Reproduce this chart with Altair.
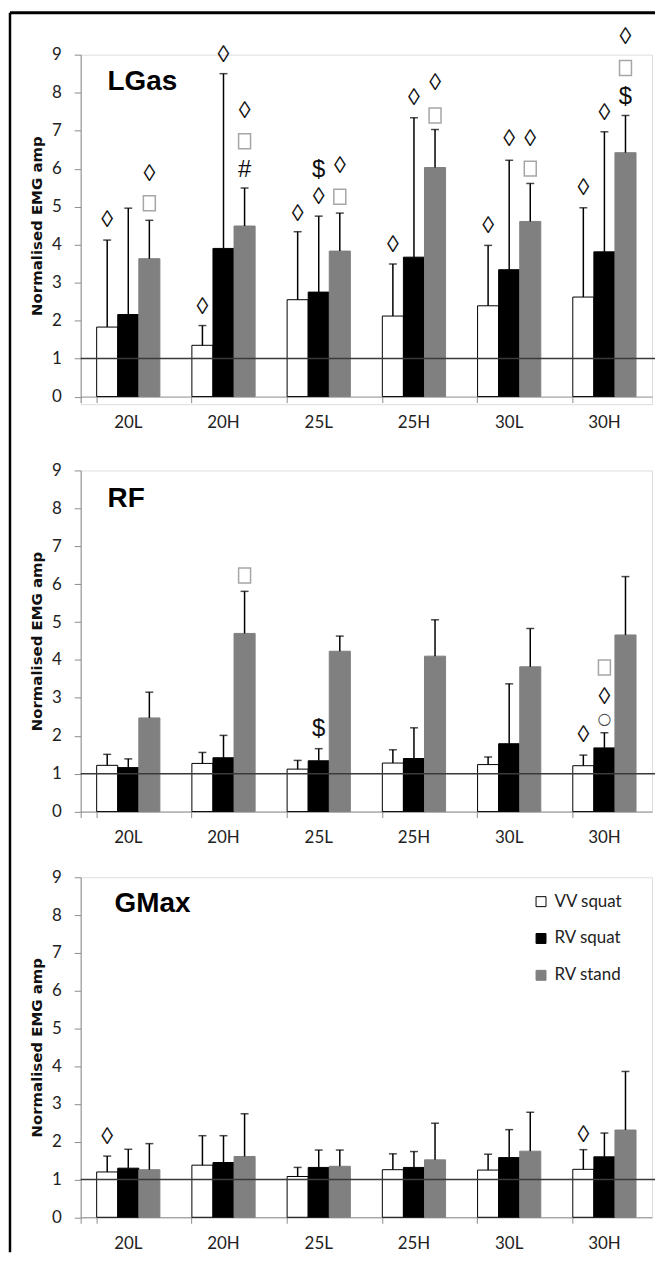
import altair as alt
import pandas as pd

categories = ["20L", "20H", "25L", "25H", "30L", "30H"]
series = ["VV squat", "RV squat", "RV stand"]
muscles = ["LGas", "RF", "GMax"]

# mean values and top of (upper) SD error bars
lgas_vv = [1.83, 1.35, 2.55, 2.12, 2.39, 2.62]
lgas_vv_top = [4.12, 1.87, 4.34, 3.49, 3.98, 4.97]
lgas_rvsq = [2.16, 3.90, 2.75, 3.67, 3.34, 3.81]
lgas_rvsq_top = [4.96, 8.50, 4.75, 7.34, 6.22, 6.97]
lgas_rvst = [3.63, 4.49, 3.83, 6.03, 4.61, 6.42]
lgas_rvst_top = [4.64, 5.49, 4.83, 7.03, 5.61, 7.40]

rf_vv = [1.22, 1.27, 1.12, 1.28, 1.24, 1.21]
rf_vv_top = [1.51, 1.56, 1.35, 1.63, 1.44, 1.49]
rf_rvsq = [1.16, 1.42, 1.34, 1.40, 1.79, 1.68]
rf_rvsq_top = [1.39, 2.01, 1.66, 2.21, 3.37, 2.08]
rf_rvst = [2.47, 4.70, 4.23, 4.10, 3.82, 4.66]
rf_rvst_top = [3.15, 5.81, 4.63, 5.06, 4.83, 6.20]

gmax_vv = [1.20, 1.38, 1.08, 1.26, 1.25, 1.27]
gmax_vv_top = [1.62, 2.16, 1.32, 1.68, 1.67, 1.79]
gmax_rvsq = [1.30, 1.45, 1.32, 1.32, 1.58, 1.60]
gmax_rvsq_top = [1.80, 2.16, 1.78, 1.74, 2.32, 2.23]
gmax_rvst = [1.26, 1.61, 1.35, 1.52, 1.75, 2.31]
gmax_rvst_top = [1.95, 2.74, 1.78, 2.49, 2.78, 3.86]

# significance symbols: (category, series, symbol, height); "box" = grey empty box
lgas_ann = [
    ("20L", "VV squat", "◊", 4.65), ("20L", "RV stand", "box", 5.09), ("20L", "RV stand", "◊", 5.87),
    ("20H", "VV squat", "◊", 2.35), ("20H", "RV squat", "◊", 8.98), ("20H", "RV stand", "#", 5.96),
    ("20H", "RV stand", "box", 6.72), ("20H", "RV stand", "◊", 7.52),
    ("25L", "VV squat", "◊", 4.81), ("25L", "RV squat", "◊", 5.26), ("25L", "RV squat", "$", 5.96),
    ("25L", "RV stand", "box", 5.26), ("25L", "RV stand", "◊", 6.08),
    ("25H", "VV squat", "◊", 3.98), ("25H", "RV squat", "◊", 7.86), ("25H", "RV stand", "box", 7.40),
    ("25H", "RV stand", "◊", 8.25),
    ("30L", "VV squat", "◊", 4.49), ("30L", "RV squat", "◊", 6.79), ("30L", "RV stand", "box", 6.00),
    ("30L", "RV stand", "◊", 6.79),
    ("30H", "VV squat", "◊", 5.50), ("30H", "RV squat", "◊", 7.47), ("30H", "RV stand", "$", 7.88),
    ("30H", "RV stand", "box", 8.65), ("30H", "RV stand", "◊", 9.47),
]
rf_ann = [
    ("20H", "RV stand", "box", 6.23), ("25L", "RV squat", "$", 2.19),
    ("30H", "VV squat", "◊", 2.01), ("30H", "RV squat", "○", 2.43),
    ("30H", "RV squat", "◊", 3.03), ("30H", "RV squat", "box", 3.80),
]
gmax_ann = [("20L", "VV squat", "◊", 2.12), ("30H", "VV squat", "◊", 2.19)]

bar_data = {
    "LGas": [(lgas_vv, lgas_vv_top), (lgas_rvsq, lgas_rvsq_top), (lgas_rvst, lgas_rvst_top)],
    "RF": [(rf_vv, rf_vv_top), (rf_rvsq, rf_rvsq_top), (rf_rvst, rf_rvst_top)],
    "GMax": [(gmax_vv, gmax_vv_top), (gmax_rvsq, gmax_rvsq_top), (gmax_rvst, gmax_rvst_top)],
}
ann_data = {"LGas": lgas_ann, "RF": rf_ann, "GMax": gmax_ann}

sym_color = {"◊": "#111111", "$": "#111111", "#": "#111111"}
sym_size = {"◊": 24, "$": 24, "#": 24}

FONT = "Lato"
AX = "#8c8c8c"
W = 574
PLOT_H = [343.5, 342.7, 341.6]      # height of the 0..9 value range
EXTRA = [7.6, 0, 0]                 # extra view height below the x axis (layout only)
TITLE_POS = [(27, 27.5), (27, 29), (34, 26.6)]
BOX_PATH = "M-0.8,-1H0.8V1H-0.8Z"


def panel(idx):
    m = muscles[idx]
    H = PLOT_H[idx]
    rows = []
    for s, (means, tops) in zip(series, bar_data[m]):
        for c, v, t in zip(categories, means, tops):
            rows.append({"cat": c, "series": s, "mean": v, "top": t})
    df = pd.DataFrame(rows)
    txt = pd.DataFrame(
        [{"cat": c, "series": s, "sym": sy, "v": v, "col": sym_color[sy], "fs": sym_size[sy]}
         for c, s, sy, v in ann_data[m] if sy in sym_color]
    )
    circ = pd.DataFrame([{"cat": c, "series": s, "sym": sy, "v": v}
                         for c, s, sy, v in ann_data[m] if sy == "○"])
    box = pd.DataFrame([{"cat": c, "series": s, "v": v} for c, s, sy, v in ann_data[m] if sy == "box"])

    x_axis_kw = dict(
        title=None, bandPosition=0, tickExtra=True, labelAngle=0,
        labelFont=FONT, labelFontSize=17, labelColor="#222222",
        labelPadding=20, labelBaseline="middle",
        tickSize=6, tickColor=AX, domainColor=AX, tickWidth=1, domainWidth=1,
        grid=False,
    )
    if EXTRA[idx]:
        x_axis_kw["offset"] = -EXTRA[idx]
    x = alt.X(
        "cat:N", sort=categories,
        scale=alt.Scale(paddingInner=0.336, paddingOuter=0.168),
        axis=alt.Axis(**x_axis_kw),
    )
    xo = alt.XOffset("series:N", sort=series, scale=alt.Scale(paddingInner=0, paddingOuter=0))
    yscale = alt.Scale(domain=[0, 9], nice=False, zero=True, range=[H, 0])
    yaxis = alt.Axis(
        values=list(range(10)), title="Normalised EMG amp", labelOverlap=False,
        titleFont="DejaVu Sans", titleFontSize=15, titleFontWeight="bold", titleColor="#111111",
        titleX=-44.5, titleY=H / 2, titleAngle=270, titleAlign="center", titleBaseline="middle",
        labelFont=FONT, labelFontSize=17, labelColor="#222222", labelPadding=13,
        tickSize=6.5, tickColor=AX, domainColor=AX, tickWidth=1, domainWidth=1, grid=False,
    )

    def Y(field):
        return alt.Y(field, scale=yscale, axis=yaxis)

    legend = None
    if idx == 2:
        legend = alt.Legend(
            title=None, orient="none", legendX=454, legendY=16, symbolType="square",
            symbolSize=100, symbolStrokeWidth=1, labelFont=FONT, labelFontSize=17,
            labelColor="#222222", rowPadding=19, labelOffset=5, padding=0,
        )
    fill = alt.Fill("series:N", sort=series,
                    scale=alt.Scale(domain=series, range=["#ffffff", "#000000", "#808080"]),
                    legend=legend)
    stroke = alt.Stroke("series:N", sort=series,
                        scale=alt.Scale(domain=series, range=["#000000", "#000000", "#808080"]),
                        legend=legend)

    base = alt.Chart(df)
    bars = base.mark_bar(strokeWidth=1).encode(
        x=x, xOffset=xo, y=Y("mean:Q"), fill=fill, stroke=stroke
    )
    err = base.mark_rule(color="#000000", strokeWidth=1.5).encode(
        x=x, xOffset=xo, y=Y("mean:Q"), y2="top:Q"
    )
    caps = base.mark_tick(color="#000000", thickness=1.5, size=8).encode(
        x=x, xOffset=xo, y=Y("top:Q")
    )
    refline = alt.Chart(pd.DataFrame({"ref": [1]})).mark_rule(color="#3a3a3a", strokeWidth=1.5).encode(
        y=Y("ref:Q"), x=alt.value(0), x2=alt.value(W + 3),
    )
    syms = alt.Chart(txt).mark_text(
        font="Liberation Sans", baseline="middle", align="center"
    ).encode(
        x=x, xOffset=xo, y=Y("v:Q"),
        text="sym:N", color=alt.Color("col:N", scale=None), size=alt.Size("fs:Q", scale=None),
    )
    layers = [bars, err, caps, refline, syms]
    if len(circ):
        circles = alt.Chart(circ).mark_text(
            font="DejaVu Sans", fontSize=16, baseline="middle", align="center", color="#444444"
        ).encode(x=x, xOffset=xo, y=Y("v:Q"), text="sym:N")
        layers.append(circles)
    if len(box):
        boxes = alt.Chart(box).mark_point(
            shape=BOX_PATH, size=225, filled=False, color="#a6a6a6", strokeWidth=1.5, opacity=1
        ).encode(x=x, xOffset=xo, y=Y("v:Q"))
        layers.append(boxes)
    tx, ty = TITLE_POS[idx]
    title = alt.Chart(pd.DataFrame({"name": [m]})).mark_text(
        font="Liberation Sans", fontWeight="bold", fontSize=28, align="left",
        baseline="middle", color="#000000",
    ).encode(text="name:N", x=alt.value(tx), y=alt.value(ty))
    layers.append(title)

    if idx == 0:
        frame = pd.DataFrame({"edge": ["top", "left"]})
        top_line = alt.Chart(frame).transform_filter("datum.edge == 'top'").mark_rule(
            color="#000000", strokeWidth=3
        ).encode(x=alt.value(-71), x2=alt.value(W + 3), y=alt.value(-42))
        left_line = alt.Chart(frame).transform_filter("datum.edge == 'left'").mark_rule(
            color="#000000", strokeWidth=2.5
        ).encode(x=alt.value(-71), y=alt.value(-42), y2=alt.value(1203))
        layers += [top_line, left_line]

    ch = alt.layer(*layers).properties(width=W, height=H + EXTRA[idx])
    return ch.resolve_legend(fill="independent", stroke="independent")


chart = alt.vconcat(panel(0), panel(1), panel(2), spacing=65.7, bounds="flush").resolve_legend(
    fill="independent", stroke="independent"
).configure_view(stroke=None).configure(padding=0, background="#ffffff")

chart.save("out.html", embed_options={"renderer": "svg", "actions": False})
